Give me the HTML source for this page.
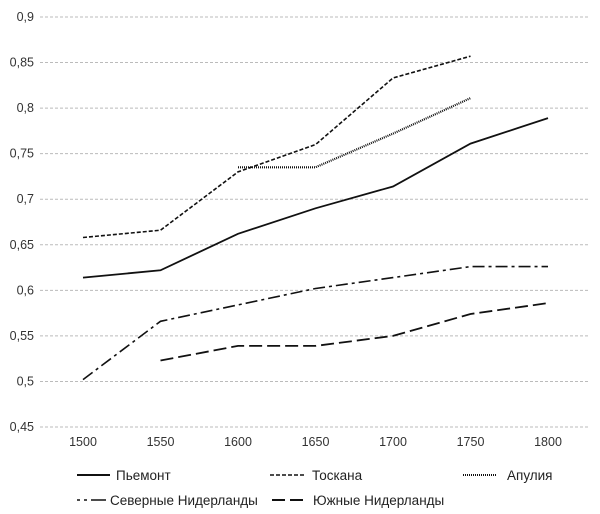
<!DOCTYPE html>
<html><head><meta charset="utf-8"><style>
body{margin:0;background:#fff}
svg{display:block;font-family:"Liberation Sans",sans-serif}
</style></head><body>
<svg id="c" width="600" height="514">
<g id="grid"></g><g id="ylab"></g><g id="xlab"></g><g id="series"></g>
<g id="legend" font-size="13.5" fill="#222">
<g><line x1="77" y1="475" x2="110" y2="475" stroke="#111" stroke-width="2"/><text x="116" y="480">Пьемонт</text></g>
<g><line x1="270" y1="475" x2="305" y2="475" stroke="#111" stroke-width="1.6" stroke-dasharray="4,2"/><text x="312" y="480">Тоскана</text></g>
<g><line x1="463" y1="475" x2="497" y2="475" stroke="#111" stroke-width="2" stroke-dasharray="1,1"/><text x="507" y="480">Апулия</text></g>
<g><line x1="77" y1="500" x2="109" y2="500" stroke="#111" stroke-width="1.6" stroke-dasharray="3,4,3,4,12,0"/><text x="110" y="505">Северные Нидерланды</text></g>
<g><line x1="272" y1="500" x2="305" y2="500" stroke="#111" stroke-width="2" stroke-dasharray="13,5"/><text x="313" y="505">Южные Нидерланды</text></g>
</g>
</svg>
<script>
const years=[1500,1550,1600,1650,1700,1750,1800];
const yTicks=[0.45,0.5,0.55,0.6,0.65,0.7,0.75,0.8,0.85,0.9];
const yTickLabels=["0,45","0,5","0,55","0,6","0,65","0,7","0,75","0,8","0,85","0,9"];
const piemont=[0.614,0.622,0.662,0.69,0.714,0.761,0.789];
const toscana=[0.658,0.666,0.73,0.76,0.833,0.857,null];
const apulia=[null,null,0.735,0.735,0.772,0.811,null];
const northNL=[0.502,0.566,0.584,0.602,0.614,0.626,0.626];
const southNL=[null,0.523,0.539,0.539,0.55,0.574,0.586];
const NS="http://www.w3.org/2000/svg";
const x=i=>83+i*77.5;
const y=v=>427-(v-0.45)/0.45*410;
function mk(t,a,p){const e=document.createElementNS(NS,t);for(const k in a)e.setAttribute(k,a[k]);p.appendChild(e);return e;}
const grid=document.getElementById('grid'),yl=document.getElementById('ylab'),xl=document.getElementById('xlab'),sg=document.getElementById('series');
yTicks.forEach((v,i)=>{
 const l=mk('line',{x1:40,x2:590,y1:y(v),y2:y(v),stroke:'#bbb','stroke-dasharray':'3,2','stroke-width':1},grid);
 
 
 const t=mk('text',{x:34,y:y(v)+4,'text-anchor':'end','font-size':12.5,fill:'#333'},yl);
 t.textContent=yTickLabels[i];
 
 
});
years.forEach((yr,i)=>{
 const t=mk('text',{x:x(i),y:446,'text-anchor':'middle','font-size':12.5,fill:'#333'},xl);
 t.textContent=yr;
 
 
});
function line(vals,name,style){
 const pts=[];vals.forEach((v,i)=>{if(v!==null)pts.push(x(i).toFixed(1)+','+y(v).toFixed(1));});
 const p=mk('polyline',Object.assign({points:pts.join(' '),fill:'none',stroke:'#111'},style),sg);
 
 
}
line(toscana,'series-toscana',{'stroke-width':1.6,'stroke-dasharray':'4,2'});
line(apulia,'series-apulia',{'stroke-width':2.2,'stroke-dasharray':'1,1'});
line(piemont,'series-piemont',{'stroke-width':1.8});
line(northNL,'series-north-netherlands',{'stroke-width':1.6,'stroke-dasharray':'12,4,3,4'});
line(southNL,'series-south-netherlands',{'stroke-width':1.8,'stroke-dasharray':'13,5'});
</script>
</body></html>
